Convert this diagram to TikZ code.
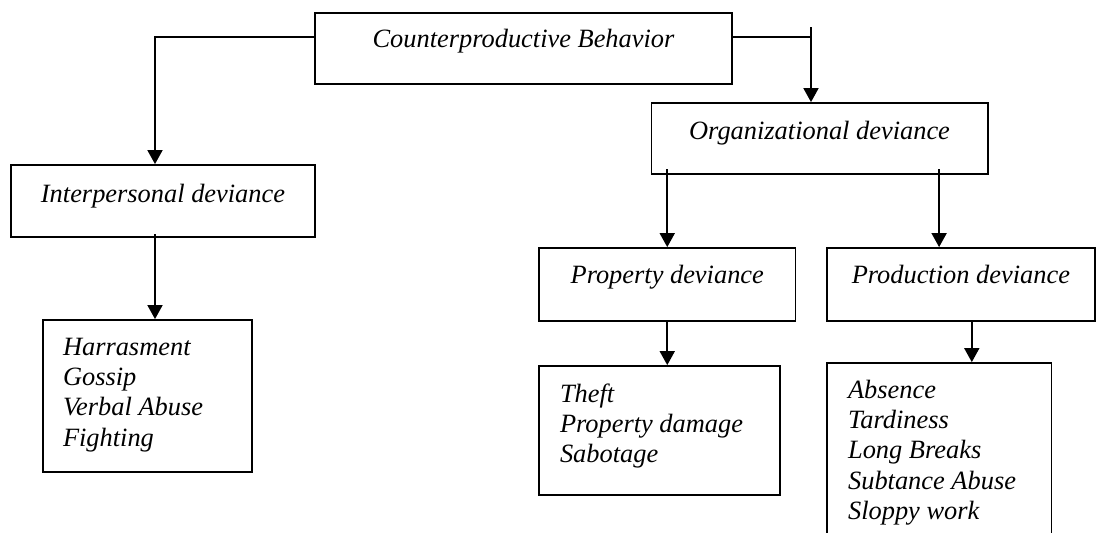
\documentclass[tikz,border=0pt]{standalone}
\usepackage{fontspec}
\setmainfont{Liberation Serif}
\usetikzlibrary{arrows.meta}
\begin{document}
\begin{tikzpicture}[x=1pt,y=-1pt,
  box/.style={draw, line width=1.8pt, inner sep=0pt, font=\fontsize{26.4}{30.4}\selectfont\itshape},
  arr/.style={line width=1.8pt, -{Triangle[length=14pt,width=15pt]}},
  ln/.style={line width=1.8pt}]
\useasboundingbox (0,0) rectangle (1096,533);
% boxes
\node[box, minimum width=417pt, text height=35pt, text depth=36.3pt] (cb) at (523.5,48.35) {Counterproductive Behavior};
\node[box, minimum width=304pt, text height=37pt, text depth=34.7pt] (ip) at (163,200.85) {Interpersonal deviance};
\node[box, minimum width=336.1pt, text height=36pt, text depth=35.3pt] (org) at (819.55,138.65) {Organizational deviance};
\node[box, minimum width=256.5pt, text height=35.3pt, text depth=37.7pt] (prop) at (667.25,284.5) {Property deviance};
\node[box, minimum width=268.3pt, text height=35.3pt, text depth=37.7pt] (prod) at (960.85,284.5) {Production deviance};
\node[box, minimum width=209pt, text height=35pt, text depth=117pt] (harr) at (147.5,396)
  {\parbox[t]{169pt}{\raggedright Harrasment\\Gossip\\Verbal Abuse\\Fighting}};
\node[box, minimum width=240.7pt, text height=36pt, text depth=93pt] (theft) at (659.35,430.5)
  {\parbox[t]{198.7pt}{\raggedright Theft\\Property damage\\Sabotage}};
\node[box, minimum width=224.8pt, text height=35pt, text depth=147pt] (abs) at (939.1,454)
  {\parbox[t]{182pt}{\raggedright Absence\\Tardiness\\Long Breaks\\Subtance Abuse\\Sloppy work}};
% connectors
\coordinate (cbL) at ([yshift=-25pt]cb.north west);
\coordinate (cbR) at ([yshift=-25pt]cb.north east);
\draw[arr] (cbL) -| ([xshift=-8pt]ip.north);
\coordinate (tick) at ([xshift=-8.55pt,yshift=75pt]org.north);
\draw[ln] (cbR) -- (cbR -| tick);
\draw[arr] (tick) -- (tick |- org.north);
\coordinate (o1a) at (org.south -| prop.north);
\draw[arr] ([yshift=6pt]o1a) -- (prop.north);
\coordinate (o2a) at (org.south -| abs.north);
\draw[arr] ([yshift=6pt]o2a) -- (o2a |- prod.north);
\draw[arr] (prop.south) -- (prop.south |- theft.north);
\coordinate (p2) at ([xshift=10.95pt]prod.south);
\draw[arr] (p2) -- (p2 |- abs.north);
\coordinate (i2) at ([xshift=-8pt,yshift=3.4pt]ip.south);
\draw[arr] (i2) -- (i2 |- harr.north);
\end{tikzpicture}
\end{document}
